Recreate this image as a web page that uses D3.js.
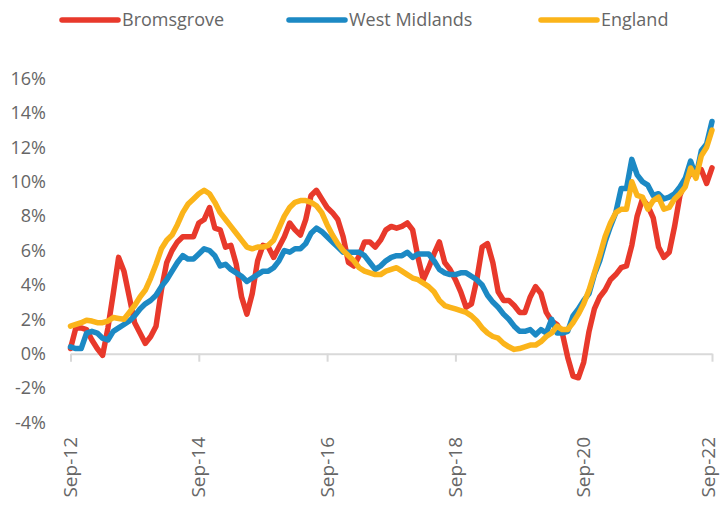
<!DOCTYPE html>
<html>
<head>
<meta charset="utf-8">
<script src="https://cdn.jsdelivr.net/npm/d3@7"></script>
<style>
  body { margin: 0; background: #fff; }
  svg text { font-family: "Open Sans", sans-serif; fill: #666; }
</style>
</head>
<body>
<div id="chart"></div>
<script>

///////////////////////////////////////////////////////////////////////////
//////////////////////////////// Data /////////////////////////////////////
///////////////////////////////////////////////////////////////////////////

//Monthly categories Sep-12 .. Sep-22
var fmt = d3.timeFormat("%b-%y");
var months = d3.timeMonths(new Date(2012, 8, 1), new Date(2022, 9, 1)).map(fmt);

var tickLabels = ["Sep-12", "Sep-14", "Sep-16", "Sep-18", "Sep-20", "Sep-22"];
var yTicks = [-4, -2, 0, 2, 4, 6, 8, 10, 12, 14, 16];

var bromsgrove = [
	0.3, 1.5, 1.5, 1.4, 0.8, 0.3, -0.1, 1.5, 3.5, 5.6,
	4.8, 3.3, 1.8, 1.2, 0.6, 1.0, 1.6, 3.7, 5.3, 6.0,
	6.5, 6.8, 6.8, 6.8, 7.6, 7.8, 8.5, 7.3, 7.2, 6.2,
	6.3, 5.2, 3.3, 2.3, 3.5, 5.4, 6.3, 6.2, 5.6, 6.2,
	6.8, 7.6, 7.2, 6.9, 7.8, 9.2, 9.5, 9.0, 8.5, 8.2,
	7.8, 6.8, 5.3, 5.1, 5.7, 6.5, 6.5, 6.2, 6.6, 7.2,
	7.4, 7.3, 7.4, 7.6, 7.2, 5.6, 4.3, 5.0, 5.8, 6.5,
	5.3, 4.9, 4.3, 3.6, 2.7, 2.9, 4.3, 6.2, 6.4, 5.3,
	3.6, 3.1, 3.1, 2.8, 2.4, 2.4, 3.3, 3.9, 3.5, 2.4,
	1.9, 1.7, 1.2, -0.2, -1.3, -1.4, -0.5, 1.3, 2.6, 3.3,
	3.7, 4.3, 4.6, 5.0, 5.1, 6.3, 8.0, 9.0, 8.6, 7.9,
	6.2, 5.6, 5.9, 7.4, 9.2, 10.0, 10.5, 10.6, 10.7, 9.9,
	10.8
];

var westMidlands = [
	0.4, 0.3, 0.3, 1.2, 1.3, 1.2, 0.9, 0.8, 1.3, 1.5,
	1.7, 1.9, 2.2, 2.6, 2.9, 3.1, 3.4, 3.9, 4.3, 4.8,
	5.3, 5.7, 5.5, 5.5, 5.8, 6.1, 6.0, 5.7, 5.1, 5.2,
	4.9, 4.7, 4.5, 4.2, 4.4, 4.6, 4.8, 4.8, 5.0, 5.4,
	6.0, 5.9, 6.1, 6.1, 6.4, 7.0, 7.3, 7.1, 6.8, 6.5,
	6.2, 5.9, 5.9, 5.9, 5.9, 5.7, 5.3, 4.9, 5.1, 5.4,
	5.6, 5.7, 5.7, 5.9, 5.6, 5.8, 5.8, 5.8, 5.4, 4.9,
	4.7, 4.6, 4.6, 4.7, 4.7, 4.5, 4.3, 4.0, 3.4, 3.0,
	2.7, 2.3, 2.0, 1.6, 1.3, 1.3, 1.4, 1.1, 1.4, 1.2,
	2.0, 1.2, 1.2, 1.3, 2.2, 2.6, 3.1, 3.5, 4.6, 5.4,
	6.5, 7.4, 8.2, 9.6, 9.6, 11.3, 10.4, 10.0, 9.8, 9.2,
	9.3, 9.0, 9.1, 9.3, 9.7, 10.2, 11.2, 10.3, 11.8, 12.2,
	13.5
];

var england = [
	1.6, 1.7, 1.8, 1.95, 1.9, 1.8, 1.8, 1.9, 2.1, 2.05,
	2.0, 2.4, 2.8, 3.3, 3.7, 4.4, 5.2, 6.1, 6.6, 6.9,
	7.5, 8.2, 8.7, 9.0, 9.3, 9.5, 9.3, 8.8, 8.2, 7.8,
	7.4, 7.0, 6.6, 6.2, 6.1, 6.2, 6.2, 6.3, 6.6, 7.3,
	8.0, 8.5, 8.8, 8.9, 8.9, 8.8, 8.6, 8.2, 7.5, 6.9,
	6.4, 6.0, 5.7, 5.4, 5.0, 4.8, 4.7, 4.6, 4.6, 4.8,
	4.9, 5.0, 4.8, 4.6, 4.4, 4.3, 4.1, 3.9, 3.6, 3.1,
	2.8, 2.7, 2.6, 2.5, 2.4, 2.2, 1.9, 1.5, 1.2, 1.0,
	0.9, 0.6, 0.4, 0.25, 0.3, 0.4, 0.5, 0.5, 0.7, 1.0,
	1.2, 1.6, 1.4, 1.4, 1.8, 2.3, 2.9, 3.7, 4.7, 5.7,
	6.8, 7.6, 8.2, 8.4, 8.4, 10.0, 9.2, 9.1, 8.4, 8.9,
	9.1, 8.4, 8.5, 9.0, 9.3, 9.7, 10.8, 10.2, 11.5, 12.0,
	13.0
];

var seriesNames = ["Bromsgrove", "West Midlands", "England"];
var seriesColors = ["#e8392b", "#1c89c4", "#fbb41a"];
var seriesValues = [bromsgrove, westMidlands, england];

///////////////////////////////////////////////////////////////////////////
//////////////////////////// Set up the SVG ///////////////////////////////
///////////////////////////////////////////////////////////////////////////

var width = 721,
	height = 508;

var svg = d3.select("#chart")
	.append("svg")
	.attr("width", width)
	.attr("height", height);

var x = d3.scalePoint()
	.domain(months)
	.range([70.5, 712]);

var y = d3.scaleLinear()
	.domain([-4, 16])
	.range([422.5, 78.5]);

///////////////////////////////////////////////////////////////////////////
//////////////////////////////// Axes /////////////////////////////////////
///////////////////////////////////////////////////////////////////////////

//Y axis labels only, no line
var yAxis = svg.append("g")
	.attr("transform", "translate(46,0)")
	.call(d3.axisLeft(y).tickValues(yTicks).tickSize(0).tickPadding(0)
		.tickFormat(function(d) { return d + "%"; }));
yAxis.select(".domain").remove();
yAxis.selectAll("text")
	.style("font-size", "18px")
	.style("font-family", "'Open Sans', sans-serif")
	.attr("fill", "#666");

//X axis line through 0%
var xAxis = svg.append("g")
	.attr("transform", "translate(0," + y(0) + ")")
	.call(d3.axisBottom(x).tickValues(tickLabels).tickSize(8).tickSizeOuter(0).tickFormat(""));
xAxis.select(".domain")
	.attr("stroke", "#d9d9d9")
	.attr("stroke-width", 2);
xAxis.selectAll(".tick line")
	.attr("stroke", "#d9d9d9")
	.attr("stroke-width", 2);

//Rotated date labels at the bottom of the plot (last one nudged in so it is not cut)
svg.append("g").selectAll(".x-label")
	.data(tickLabels)
	.enter().append("text")
	.attr("class", "x-label")
	.attr("transform", function(d) { return "translate(" + Math.min(x(d), 708) + ",437) rotate(-90)"; })
	.attr("dy", "0.35em")
	.attr("text-anchor", "end")
	.style("font-size", "19px")
	.text(function(d) { return d; });

///////////////////////////////////////////////////////////////////////////
//////////////////////////////// Lines ////////////////////////////////////
///////////////////////////////////////////////////////////////////////////

var line = d3.line()
	.x(function(d, i) { return x(months[i]); })
	.y(function(d) { return y(d); });

svg.append("g").selectAll(".series-line")
	.data(seriesValues)
	.enter().append("path")
	.attr("class", "series-line")
	.attr("d", line)
	.attr("fill", "none")
	.attr("stroke", function(d, i) { return seriesColors[i]; })
	.attr("stroke-width", 5.5)
	.attr("stroke-linejoin", "round")
	.attr("stroke-linecap", "round");

///////////////////////////////////////////////////////////////////////////
//////////////////////////////// Legend ///////////////////////////////////
///////////////////////////////////////////////////////////////////////////

var legendX = [62, 289, 541];

var legend = svg.append("g").selectAll(".legend-item")
	.data(seriesNames)
	.enter().append("g")
	.attr("class", "legend-item")
	.attr("transform", function(d, i) { return "translate(" + legendX[i] + ",20)"; });

legend.append("line")
	.attr("x1", 0).attr("x2", 56)
	.attr("stroke", function(d, i) { return seriesColors[i]; })
	.attr("stroke-width", 5.5)
	.attr("stroke-linecap", "round");

legend.append("text")
	.attr("x", 60)
	.attr("dy", "0.35em")
	.style("font-size", "18px")
	.text(function(d) { return d; });

</script>
</body>
</html>
